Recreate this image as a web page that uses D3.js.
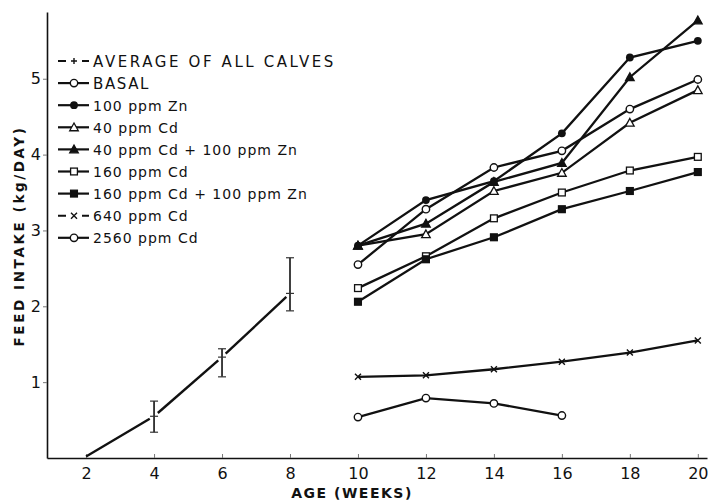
<!DOCTYPE html>
<html>
<head>
<meta charset="utf-8">
<script src="https://cdn.jsdelivr.net/npm/d3@7"></script>
<style>
  body { margin: 0; background: #fff; }
  svg text { font-family: "DejaVu Sans", sans-serif; fill: #111; }
</style>
</head>
<body>
<script>
// data
const avgWeeks = [2, 4, 6, 8];
const avgMean = [0.02, 0.55, 1.33, 2.17];
const avgLow = [null, 0.34, 1.07, 1.94];
const avgHigh = [null, 0.75, 1.44, 2.64];

const weeks = [10, 12, 14, 16, 18, 20];
const basal = [2.55, 3.28, 3.83, 4.05, 4.60, 4.99];
const zn100 = [2.80, 3.40, 3.65, 4.28, 5.28, 5.50];
const cd40 = [2.80, 2.95, 3.52, 3.76, 4.42, 4.85];
const cd40zn100 = [2.80, 3.09, 3.64, 3.89, 5.02, 5.77];
const cd160 = [2.24, 2.66, 3.16, 3.50, 3.79, 3.97];
const cd160zn100 = [2.06, 2.62, 2.91, 3.28, 3.52, 3.77];
const cd640 = [1.07, 1.09, 1.17, 1.27, 1.39, 1.55];
const weeks2560 = [10, 12, 14, 16];
const cd2560 = [0.54, 0.79, 0.72, 0.56];

const xTicks = [2, 4, 6, 8, 10, 12, 14, 16, 18, 20];
const yTicks = [1, 2, 3, 4, 5];

const legendLabels = ["AVERAGE OF ALL CALVES", "BASAL", "100 ppm Zn", "40 ppm Cd",
  "40 ppm Cd + 100 ppm Zn", "160 ppm Cd", "160 ppm Cd + 100 ppm Zn", "640 ppm Cd", "2560 ppm Cd"];
const legendMarks = ["plus", "circleOpen", "circleFilled", "triOpen", "triFilled",
  "sqOpen", "sqFilled", "cross", "circleSmall"];

const series = [
  { x: weeks, y: basal, mark: "circleOpen" },
  { x: weeks, y: zn100, mark: "circleFilled" },
  { x: weeks, y: cd40, mark: "triOpen" },
  { x: weeks, y: cd40zn100, mark: "triFilled" },
  { x: weeks, y: cd160, mark: "sqOpen" },
  { x: weeks, y: cd160zn100, mark: "sqFilled" },
  { x: weeks, y: cd640, mark: "cross" },
  { x: weeks2560, y: cd2560, mark: "circleSmall" }
];

const W = 714, H = 503;
const svg = d3.select("body").append("svg").attr("width", W).attr("height", H);

const x = d3.scaleLinear().domain([0.85, 20.27]).range([47, 707]);
const y = d3.scaleLinear().domain([0, 5.88]).range([458, 12]);

// axes
const xAxis = svg.append("g").attr("transform", "translate(0,458)")
  .call(d3.axisBottom(x).tickValues(xTicks).tickSize(-4).tickPadding(10).tickSizeOuter(0));
const yAxis = svg.append("g").attr("transform", "translate(47,0)")
  .call(d3.axisLeft(y).tickValues(yTicks).tickFormat(d3.format("d")).tickSize(4).tickPadding(2).tickSizeOuter(0));
[xAxis, yAxis].forEach(function(a) {
  a.select(".domain").attr("stroke", "#111").attr("stroke-width", 1.6);
  a.selectAll(".tick line").attr("stroke", "#777").attr("stroke-width", 1);
  a.selectAll(".tick text").style("font-size", "16px").attr("fill", "#111");
});

// axis titles
svg.append("text").attr("x", 352).attr("y", 498).attr("text-anchor", "middle")
  .style("font-size", "14px").style("font-weight", "bold").style("letter-spacing", "1.5px")
  .text("AGE (WEEKS)");
svg.append("text").attr("transform", "translate(24,236) rotate(-90)").attr("text-anchor", "middle")
  .style("font-size", "13.5px").style("font-weight", "bold").style("letter-spacing", "2.6px")
  .text("FEED INTAKE (kg/DAY)");

// marker drawing
function drawMark(g, type, cx, cy) {
  if (type === "circleOpen" || type === "circleSmall") {
    g.append("circle").attr("cx", cx).attr("cy", cy).attr("r", 3.7)
      .attr("fill", "#fff").attr("stroke", "#111").attr("stroke-width", 1.4);
  } else if (type === "circleFilled") {
    g.append("circle").attr("cx", cx).attr("cy", cy).attr("r", 3.9).attr("fill", "#111");
  } else if (type === "triOpen" || type === "triFilled") {
    const s = 4.3;
    g.append("path").attr("d", `M${cx},${cy - s}L${cx + s},${cy + s * 0.8}L${cx - s},${cy + s * 0.8}Z`)
      .attr("fill", type === "triFilled" ? "#111" : "#fff").attr("stroke", "#111").attr("stroke-width", 1.3);
  } else if (type === "sqOpen" || type === "sqFilled") {
    g.append("rect").attr("x", cx - 3.4).attr("y", cy - 3.4).attr("width", 6.8).attr("height", 6.8)
      .attr("fill", type === "sqFilled" ? "#111" : "#fff").attr("stroke", "#111").attr("stroke-width", 1.3);
  } else if (type === "cross") {
    g.append("path").attr("d", `M${cx - 3},${cy - 3}L${cx + 3},${cy + 3}M${cx - 3},${cy + 3}L${cx + 3},${cy - 3}`)
      .attr("stroke", "#111").attr("stroke-width", 1.4);
  } else if (type === "plus") {
    g.append("path").attr("d", `M${cx - 3},${cy}L${cx + 3},${cy}M${cx},${cy - 3}L${cx},${cy + 3}`)
      .attr("stroke", "#111").attr("stroke-width", 1.4);
  }
}

const line = d3.line().x(d => x(d[0])).y(d => y(d[1]));
const plot = svg.append("g");

// treatment groups
series.forEach(function(s) {
  const pts = s.x.map((w, i) => [w, s.y[i]]);
  plot.append("path").datum(pts).attr("d", line)
    .attr("fill", "none").attr("stroke", "#111").attr("stroke-width", 2.3);
});
series.forEach(function(s) {
  s.x.forEach((w, i) => drawMark(plot, s.mark, x(w), y(s.y[i])));
});

// average of all calves, broken near the error bars
const avgG = svg.append("g");
for (let i = 0; i < avgWeeks.length - 1; i++) {
  const x0 = x(avgWeeks[i]), y0 = y(avgMean[i]);
  const x1 = x(avgWeeks[i + 1]), y1 = y(avgMean[i + 1]);
  const len = Math.hypot(x1 - x0, y1 - y0);
  const ux = (x1 - x0) / len, uy = (y1 - y0) / len;
  const g0 = avgLow[i] === null ? 0 : 5, g1 = 5;
  avgG.append("line")
    .attr("x1", x0 + ux * g0).attr("y1", y0 + uy * g0)
    .attr("x2", x1 - ux * g1).attr("y2", y1 - uy * g1)
    .attr("stroke", "#111").attr("stroke-width", 2.4);
}
avgWeeks.forEach(function(w, i) {
  if (avgLow[i] === null) return;
  const cx = x(w);
  avgG.append("line").attr("x1", cx).attr("x2", cx).attr("y1", y(avgLow[i])).attr("y2", y(avgHigh[i]))
    .attr("stroke", "#111").attr("stroke-width", 1.6);
  [avgLow[i], avgHigh[i], avgMean[i]].forEach(function(v) {
    avgG.append("line").attr("x1", cx - 4).attr("x2", cx + 4).attr("y1", y(v)).attr("y2", y(v))
      .attr("stroke", "#333").attr("stroke-width", 1.2);
  });
});

// legend
const leg = svg.append("g");
legendLabels.forEach(function(lab, i) {
  const ly = 61 + i * 22.1;
  if (legendMarks[i] === "plus" || legendMarks[i] === "cross") {
    leg.append("path").attr("d", `M58,${ly}L66,${ly}M82,${ly}L89,${ly}`)
      .attr("stroke", "#111").attr("stroke-width", 2);
  } else {
    leg.append("line").attr("x1", 58).attr("x2", 89).attr("y1", ly).attr("y2", ly)
      .attr("stroke", "#111").attr("stroke-width", 2.2);
  }
  drawMark(leg, legendMarks[i], 74, ly);
  const caps = lab === lab.toUpperCase();
  leg.append("text").attr("x", 93).attr("y", ly + 5.5)
    .style("font-size", caps ? "15px" : "14px")
    .style("letter-spacing", caps ? (i === 0 ? "2.6px" : "1.6px") : "1px")
    .text(lab);
});
</script>
</body>
</html>
